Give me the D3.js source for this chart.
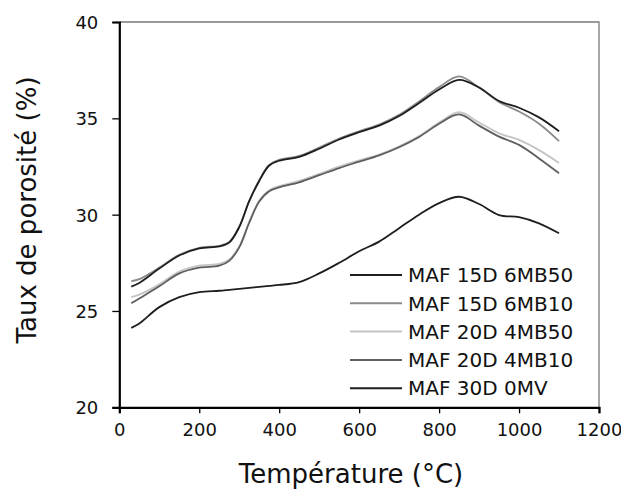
<!DOCTYPE html>
<html>
<head>
<meta charset="utf-8">
<script src="https://cdn.jsdelivr.net/npm/d3@7"></script>
<style>
  body { margin: 0; background: #fff; }
  text { font-family: "DejaVu Sans", Verdana, sans-serif; fill: #111; }
</style>
</head>
<body>
<div class="graph1"></div>
<script>
// Températures (°C)
let temperatures = [30, 50, 100, 150, 200, 250, 275, 300, 325, 350, 375, 400, 450, 500,
    550, 600, 650, 700, 750, 800, 850, 900, 950, 1000, 1050, 1100];

// Taux de porosité (%) pour chaque mélange
let maf15d6mb50 = [26.26, 26.45, 27.2, 27.88, 28.25, 28.35, 28.55, 29.35, 30.7, 31.75, 32.55, 32.8, 33.0, 33.42,
    33.9, 34.28, 34.62, 35.12, 35.8, 36.5, 37.0, 36.6, 35.9, 35.55, 35.05, 34.33];
let maf15d6mb10 = [26.55, 26.65, 27.25, 27.92, 28.28, 28.38, 28.58, 29.38, 30.72, 31.78, 32.58, 32.85, 33.05, 33.48,
    33.95, 34.33, 34.68, 35.18, 35.88, 36.62, 37.18, 36.6, 35.85, 35.35, 34.72, 33.82];
let maf20d4mb50 = [25.72, 25.85, 26.38, 27.05, 27.35, 27.45, 27.68, 28.35, 29.62, 30.72, 31.27, 31.48, 31.75, 32.12,
    32.5, 32.82, 33.12, 33.55, 34.08, 34.78, 35.32, 34.78, 34.22, 33.88, 33.35, 32.68];
let maf20d4mb10 = [25.4, 25.65, 26.28, 26.95, 27.25, 27.35, 27.6, 28.3, 29.58, 30.68, 31.22, 31.42, 31.68, 32.05,
    32.42, 32.75, 33.08, 33.5, 34.03, 34.72, 35.2, 34.62, 34.05, 33.62, 32.92, 32.15];
let maf30d0mv = [24.12, 24.35, 25.2, 25.72, 25.98, 26.05, 26.1, 26.15, 26.2, 26.25, 26.3, 26.35, 26.5, 26.95,
    27.5, 28.1, 28.6, 29.3, 30.0, 30.6, 30.93, 30.55, 29.98, 29.87, 29.55, 29.03];

let noms = ["MAF 15D 6MB50", "MAF 15D 6MB10", "MAF 20D 4MB50", "MAF 20D 4MB10", "MAF 30D 0MV"];
let couleurs = ["#1e1e1e", "#8a8a8a", "#c4c4c4", "#5e5e5e", "#1e1e1e"];
let xTicks = [0, 200, 400, 600, 800, 1000, 1200];
let yTicks = [20, 25, 30, 35, 40];

let series = [maf15d6mb50, maf15d6mb10, maf20d4mb50, maf20d4mb10, maf30d0mv];

let width = 621;
let height = 497;

let svg = d3.select('.graph1')
    .append('svg')
    .attr('width', width)
    .attr('height', height);

let x = d3.scaleLinear().domain([0, 1200]).range([119.3, 599]);
let y = d3.scaleLinear().domain([20, 40]).range([407.3, 22]);

// Cadre : haut et droite en gris
svg.append('path')
    .attr('d', "M" + x(0) + "," + y(40) + "H" + x(1200) + "V" + y(20))
    .attr('fill', 'none')
    .attr('stroke', '#7a7a7a')
    .attr('stroke-width', 1.3);

// Axes
let axeX = d3.axisBottom(x).tickValues(xTicks).tickSize(6).tickPadding(10).tickFormat(d3.format('d'));
let gx = svg.append('g')
    .attr('transform', 'translate(0,' + y(20) + ')')
    .call(axeX);

let axeY = d3.axisLeft(y).tickValues(yTicks).tickSize(7).tickPadding(14);
let gy = svg.append('g')
    .attr('transform', 'translate(' + x(0) + ',0)')
    .call(axeY);

[gx, gy].forEach(function (g) {
    g.select('.domain').attr('stroke', '#000').attr('stroke-width', 2.2);
    g.selectAll('.tick line').attr('stroke', '#000').attr('stroke-width', 1.3);
    g.selectAll('.tick text').style('font-size', '18px').attr('fill', '#111');
});
gy.selectAll('.tick text').attr('dy', '0.36em');

// Courbes lissées
let ligne = d3.line()
    .x(function (d, i) { return x(temperatures[i]); })
    .y(function (d) { return y(d); })
    .curve(d3.curveCatmullRom.alpha(0.5));

// ordre de tracé : les plus foncées au-dessus
[2, 1, 3, 0, 4].forEach(function (k) {
    svg.append('path')
        .attr('d', ligne(series[k]))
        .attr('fill', 'none')
        .attr('stroke', couleurs[k])
        .attr('stroke-width', 1.8);
});

// Légende
let leg = svg.append('g');
noms.forEach(function (n, i) {
    let yy = 275 + i * 28.3;
    leg.append('line')
        .attr('x1', 350).attr('x2', 402)
        .attr('y1', yy).attr('y2', yy)
        .attr('stroke', couleurs[i])
        .attr('stroke-width', 2);
    leg.append('text')
        .attr('x', 408).attr('y', yy)
        .attr('dy', '0.36em')
        .style('font-size', '20px')
        .text(n);
});

// Titres des axes
svg.append('text')
    .attr('x', 351).attr('y', 483)
    .attr('text-anchor', 'middle')
    .style('font-size', '26px')
    .text('Température (°C)');

svg.append('text')
    .attr('transform', 'translate(36,210) rotate(-90)')
    .attr('text-anchor', 'middle')
    .style('font-size', '26px')
    .text('Taux de porosité (%)');
</script>
</body>
</html>
